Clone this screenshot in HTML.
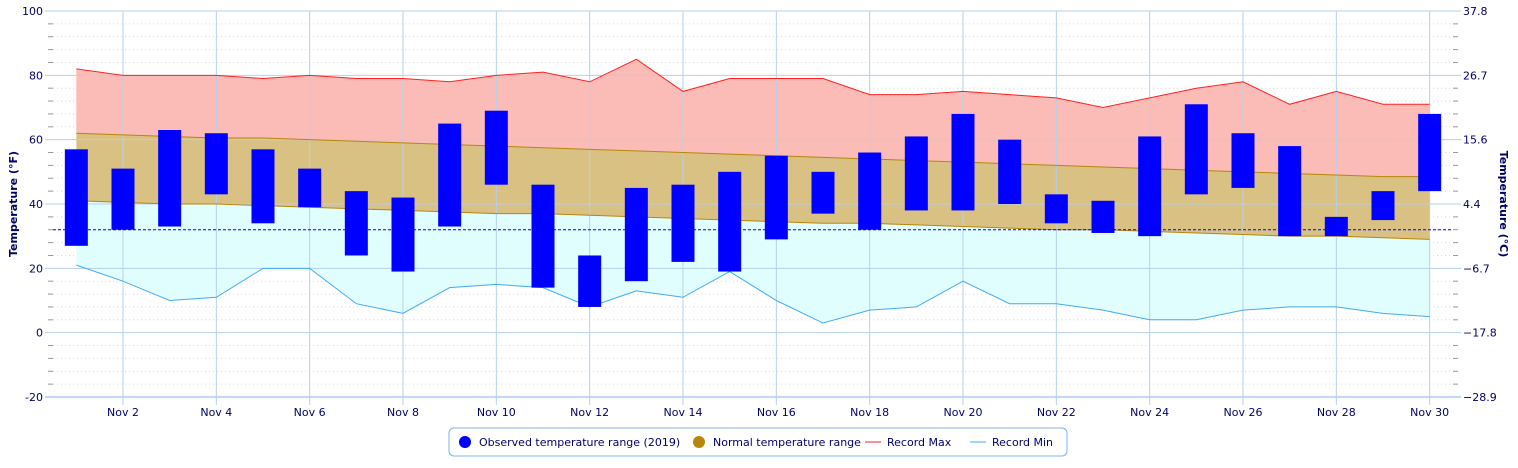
<!DOCTYPE html>
<html><head><meta charset="utf-8"><style>
body{margin:0;background:#fff;font-family:"Liberation Sans","DejaVu Sans",sans-serif}
svg text{font-family:"DejaVu Sans","Liberation Sans",sans-serif}
</style></head><body>
<svg id="c" width="1518" height="463"></svg>
<script>
const days=[1,2,3,4,5,6,7,8,9,10,11,12,13,14,15,16,17,18,19,20,21,22,23,24,25,26,27,28,29,30];
const obsHigh=[57,51,63,62,57,51,44,42,65,69,46,24,45,46,50,55,50,56,61,68,60,43,41,61,71,62,58,36,44,68];
const obsLow=[27,32,33,43,34,39,24,19,33,46,14,8,16,22,19,29,37,32,38,38,40,34,31,30,43,45,30,30,35,44];
const recMax=[82,80,80,80,79,80,79,79,78,80,81,78,85,75,79,79,79,74,74,75,74,73,70,73,76,78,71,75,71,71];
const recMin=[21,16,10,11,20,20,9,6,14,15,14,8,13,11,19,10,3,7,8,16,9,9,7,4,4,7,8,8,6,5];
const normHigh=[62,61.5,61,60.5,60.5,60,59.5,59,58.5,58,57.5,57,56.5,56,55.5,55,54.5,54,53.5,53,52.5,52,51.5,51,50.5,50,49.5,49,48.5,48.5];
const normLow=[41,40.5,40,40,39.5,39,38.5,38,37.5,37,37,36.5,36,35.5,35,34.5,34,34,33.5,33,32.5,32,32,31.5,31,30.5,30,30,29.5,29];
const yTicks=[-20,0,20,40,60,80,100];
const cTicks=["−28.9","−17.8","−6.7","4.4","15.6","26.7","37.8"];
const xTickDays=[2,4,6,8,10,12,14,16,18,20,22,24,26,28,30];
const freezing=32;

const L=53,R=1453,T=11,B=397;
const x=d=>L+(d-0.5)/30*(R-L);
const y=v=>B-(v+20)/120*(B-T);
const svg=document.getElementById('c');
const NS='http://www.w3.org/2000/svg';
function mk(tag,attrs,parent){const e=document.createElementNS(NS,tag);for(const k in attrs)e.setAttribute(k,attrs[k]);(parent||svg).appendChild(e);return e;}

// minor grid
for(let v=-20;v<=100;v+=4){if(v%20===0)continue;
 const g=mk('line',{x1:L,x2:R,y1:y(v),y2:y(v),stroke:'#d8d8d8','stroke-dasharray':'1,3'});
 
 const t1=mk('line',{x1:L-5,x2:L,y1:y(v),y2:y(v),stroke:'#999'});
 const t2=mk('line',{x1:R,x2:R+5,y1:y(v),y2:y(v),stroke:'#999'});
}
// areas
function band(top,bot,fill,name){
 let p=days.map((d,i)=>x(d)+','+y(top[i])).join(' ')+' '+days.slice().reverse().map((d,j)=>{const i=days.length-1-j;return x(d)+','+y(bot[i]);}).join(' ');
 const e=mk('polygon',{points:p,fill:fill});
}
band(recMax,normHigh,'#fbbbb6','record-high-band');
band(normHigh,normLow,'#d9c183','normal-band');
band(normLow,recMin,'#e1fefe','record-low-band');
// major grid
yTicks.forEach((v,i)=>{
 const g=mk('line',{x1:L-8,x2:R+8,y1:y(v),y2:y(v),stroke:v===-20?'#7cb5ec':'#b5d1ea'});
 const t=mk('text',{x:L-10,y:y(v)+4,'text-anchor':'end','font-size':11,fill:'#000066'});t.textContent=v;
 const c=mk('text',{x:R+10,y:y(v)+4,'text-anchor':'start','font-size':11,fill:'#000066'});c.textContent=cTicks[i];
});
xTickDays.forEach(d=>{
 const g=mk('line',{x1:x(d),x2:x(d),y1:T,y2:B+8,stroke:'#b5d1ea'});
 const t=mk('text',{x:x(d),y:B+19,'text-anchor':'middle','font-size':11,fill:'#000066'});t.textContent='Nov '+d;
});
// lines
function line(arr,color,name){const e=mk('polyline',{points:days.map((d,i)=>x(d)+','+y(arr[i])).join(' '),fill:'none',stroke:color,'stroke-width':1});}
line(normHigh,'#b8860b','normal-high-line');
line(normLow,'#b8860b','normal-low-line');
line(recMax,'#ff2222','record-max-line');
line(recMin,'#44aaf0','record-min-line');
const fl=mk('line',{x1:L,x2:R,y1:y(freezing),y2:y(freezing),stroke:'#0000ff','stroke-dasharray':'3,2','stroke-width':1});
// bars
days.forEach((d,i)=>{const r=mk('rect',{x:x(d)-11.5,y:y(obsHigh[i]),width:23,height:y(obsLow[i])-y(obsHigh[i]),fill:'#0000ff'});});
// axis titles
const a1=mk('text',{transform:'translate(17,204) rotate(-90)','text-anchor':'middle','font-size':11,'font-weight':'bold',fill:'#000066'});a1.textContent='Temperature (°F)';
const a2=mk('text',{transform:'translate(1500,204) rotate(90)','text-anchor':'middle','font-size':11,'font-weight':'bold',fill:'#000066'});a2.textContent='Temperature (°C)';
// legend
const lg=mk('g',{});
mk('rect',{x:449,y:428,width:618,height:28,rx:5,fill:'#fff',stroke:'#7cb5ec'},lg);
const items=[['circle','#0000ff','Observed temperature range (2019)',465],['circle','#b8860b','Normal temperature range',699],['line','#ff2222','Record Max',873],['line','#44aaf0','Record Min',978]];
items.forEach(it=>{const g=mk('g',{},lg);
 if(it[0]==='circle')mk('circle',{cx:it[3],cy:442,r:6,fill:it[1]},g);else mk('line',{x1:it[3]-8,x2:it[3]+8,y1:442,y2:442,stroke:it[1]},g);
 const t=mk('text',{x:it[3]+14,y:446,'font-size':11,fill:'#000066'},g);t.textContent=it[2];});
</script>
</body></html>
